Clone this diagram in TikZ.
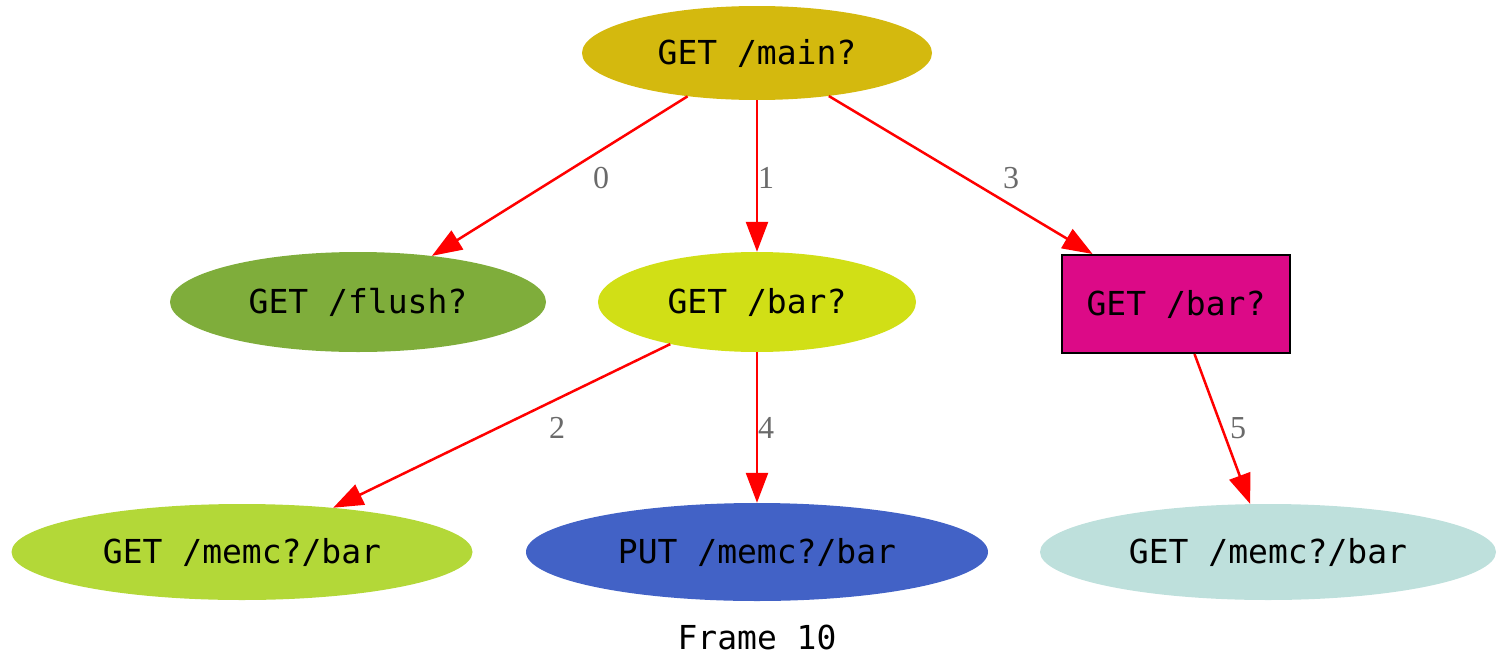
\documentclass[tikz,border=0pt]{standalone}
\usepackage{fontspec}
\setmonofont{DejaVu Sans Mono}
\newfontfamily\lblfont{Liberation Serif}
\usetikzlibrary{shapes.geometric,arrows.meta}
\definecolor{cmain}{HTML}{D4B90E}
\definecolor{cflush}{HTML}{7FAD3B}
\definecolor{cbarone}{HTML}{D1DF16}
\definecolor{cbartwo}{HTML}{DC0A87}
\definecolor{cmemcone}{HTML}{B3D838}
\definecolor{cput}{HTML}{4262C6}
\definecolor{cmemcthree}{HTML}{BEE0DC}
\definecolor{lblgray}{HTML}{6A6A6A}
\tikzset{
  req/.style={ellipse, inner sep=0pt, font=\ttfamily\fontsize{33}{33}\selectfont, text=black},
  boxreq/.style={rectangle, draw=black, line width=2pt, inner sep=0pt, font=\ttfamily\fontsize{33}{33}\selectfont, text=black},
  edge/.style={draw=red, line width=2.5pt, -{Triangle[length=30pt,width=22pt]}},
  elabel/.style={font=\lblfont\fontsize{32}{32}\selectfont, text=lblgray},
}
\begin{document}
\begin{tikzpicture}[x=1pt,y=-1pt]
\useasboundingbox (0,0) rectangle (1497,659);
\node[req, fill=cmain, minimum width=350pt, minimum height=94pt] (main) at (757,53) {GET /main?};
\node[req, fill=cflush, minimum width=376pt, minimum height=100pt] (flush) at (358,302) {GET /flush?};
\node[req, fill=cbarone, minimum width=318pt, minimum height=100pt] (barone) at (757,302) {GET /bar?};
\node[boxreq, fill=cbartwo, minimum width=228pt, minimum height=98pt] (bartwo) at (1176,304) {GET /bar?};
\node[req, fill=cmemcone, minimum width=461pt, minimum height=96pt] (memcone) at (242,552) {GET /memc?/bar};
\node[req, fill=cput, minimum width=462pt, minimum height=98pt] (put) at (757,552) {PUT /memc?/bar};
\node[req, fill=cmemcthree, minimum width=456pt, minimum height=96pt] (memcthree) at (1268,552) {GET /memc?/bar};
\node[font=\ttfamily\fontsize{33}{33}\selectfont] (frame) at (757,637) {Frame 10};
\draw[edge] (main) -- (flush);
\draw[edge] (main) -- (barone);
\draw[edge] (main) -- (bartwo);
\draw[edge] (barone) -- (memcone);
\draw[edge] (barone) -- (put);
\draw[edge] (bartwo) -- (memcthree);
\node[elabel] (l0) at (601,178) {0};
\node[elabel] (l1) at (766,178) {1};
\node[elabel] (l3) at (1011,178) {3};
\node[elabel] (l2) at (557,428) {2};
\node[elabel] (l4) at (766,428) {4};
\node[elabel] (l5) at (1238,428) {5};
\end{tikzpicture}
\end{document}
